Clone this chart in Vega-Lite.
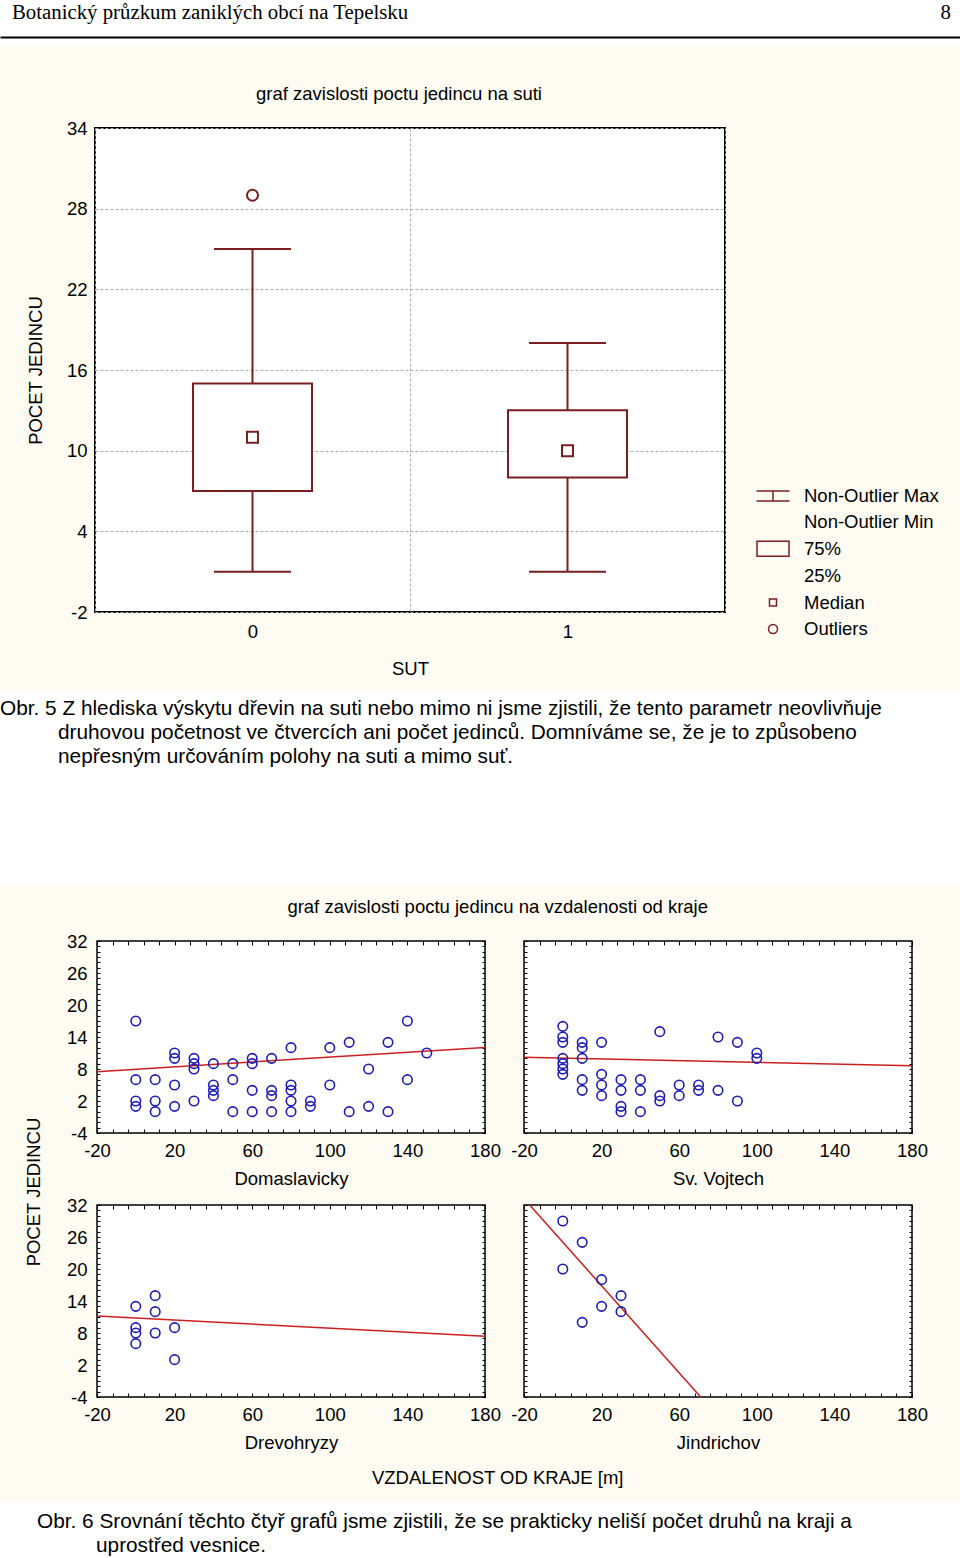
{
  "$schema": "https://vega.github.io/schema/vega-lite/v6.json",
  "background": "#FEFCF2",
  "padding": 0,
  "spacing": 13,
  "columns": 1,
  "align": "none",
  "config": {
    "font": "Liberation Sans",
    "view": {"stroke": "black", "strokeWidth": 1.5, "fill": "white"},
    "axis": {"domain": false, "labelFontSize": 18.5, "titleFontSize": 18.5, "labelColor": "black", "titleColor": "black", "titleFontWeight": "normal", "labelFont": "Liberation Sans", "titleFont": "Liberation Sans", "gridColor": "#ababab", "gridDash": [3, 2], "gridWidth": 1, "tickColor": "black", "labelFlush": false, "labelOverlap": false},
    "title": {"fontSize": 18.5, "fontWeight": "normal", "color": "black", "font": "Liberation Sans"},
    "legend": {"labelFontSize": 18.5, "labelColor": "black", "labelFont": "Liberation Sans"}
  },
  "datasets": {
    "header": [
      {"side": "left", "label": "Botanický průzkum zaniklých obcí na Tepelsku"},
      {"side": "right", "label": "8"}
    ],
    "caption1": [
      {"line": 1, "text": "Obr. 5 Z hlediska výskytu dřevin na suti nebo mimo ni jsme zjistili, že tento parametr neovlivňuje"},
      {"line": 2, "text": "druhovou početnost ve čtvercích ani počet jedinců. Domníváme se, že je to způsobeno"},
      {"line": 3, "text": "nepřesným určováním polohy na suti a mimo suť."}
    ],
    "caption2": [
      {"line": 1, "text": "Obr. 6 Srovnání těchto čtyř grafů jsme zjistili, že se prakticky neliší počet druhů na kraji a"},
      {"line": 2, "text": "uprostřed vesnice."}
    ],
    "boxes": [
      {"sut": "0", "lo": 1, "q1": 7, "median": 11, "q3": 15, "hi": 25},
      {"sut": "1", "lo": 1, "q1": 8, "median": 10, "q3": 13, "hi": 18}
    ],
    "outliers": [
      {"sut": "0", "count": 29}
    ],
    "points": [
      {"site": "Domaslavicky", "dist": 0, "count": 17}, {"site": "Domaslavicky", "dist": 0, "count": 6}, {"site": "Domaslavicky", "dist": 0, "count": 2}, {"site": "Domaslavicky", "dist": 0, "count": 1},
      {"site": "Domaslavicky", "dist": 10, "count": 6}, {"site": "Domaslavicky", "dist": 10, "count": 2}, {"site": "Domaslavicky", "dist": 10, "count": 0},
      {"site": "Domaslavicky", "dist": 20, "count": 11}, {"site": "Domaslavicky", "dist": 20, "count": 10}, {"site": "Domaslavicky", "dist": 20, "count": 5}, {"site": "Domaslavicky", "dist": 20, "count": 1},
      {"site": "Domaslavicky", "dist": 30, "count": 10}, {"site": "Domaslavicky", "dist": 30, "count": 9}, {"site": "Domaslavicky", "dist": 30, "count": 8}, {"site": "Domaslavicky", "dist": 30, "count": 2},
      {"site": "Domaslavicky", "dist": 40, "count": 9}, {"site": "Domaslavicky", "dist": 40, "count": 5}, {"site": "Domaslavicky", "dist": 40, "count": 4}, {"site": "Domaslavicky", "dist": 40, "count": 3},
      {"site": "Domaslavicky", "dist": 50, "count": 9}, {"site": "Domaslavicky", "dist": 50, "count": 6}, {"site": "Domaslavicky", "dist": 50, "count": 0},
      {"site": "Domaslavicky", "dist": 60, "count": 10}, {"site": "Domaslavicky", "dist": 60, "count": 9}, {"site": "Domaslavicky", "dist": 60, "count": 4}, {"site": "Domaslavicky", "dist": 60, "count": 0},
      {"site": "Domaslavicky", "dist": 70, "count": 10}, {"site": "Domaslavicky", "dist": 70, "count": 4}, {"site": "Domaslavicky", "dist": 70, "count": 3}, {"site": "Domaslavicky", "dist": 70, "count": 0},
      {"site": "Domaslavicky", "dist": 80, "count": 12}, {"site": "Domaslavicky", "dist": 80, "count": 5}, {"site": "Domaslavicky", "dist": 80, "count": 4}, {"site": "Domaslavicky", "dist": 80, "count": 2}, {"site": "Domaslavicky", "dist": 80, "count": 0},
      {"site": "Domaslavicky", "dist": 90, "count": 2}, {"site": "Domaslavicky", "dist": 90, "count": 1},
      {"site": "Domaslavicky", "dist": 100, "count": 12}, {"site": "Domaslavicky", "dist": 100, "count": 5},
      {"site": "Domaslavicky", "dist": 110, "count": 13}, {"site": "Domaslavicky", "dist": 110, "count": 0},
      {"site": "Domaslavicky", "dist": 120, "count": 8}, {"site": "Domaslavicky", "dist": 120, "count": 1},
      {"site": "Domaslavicky", "dist": 130, "count": 13}, {"site": "Domaslavicky", "dist": 130, "count": 0},
      {"site": "Domaslavicky", "dist": 140, "count": 17}, {"site": "Domaslavicky", "dist": 140, "count": 6},
      {"site": "Domaslavicky", "dist": 150, "count": 11},
      {"site": "Sv. Vojtech", "dist": 0, "count": 16}, {"site": "Sv. Vojtech", "dist": 0, "count": 14}, {"site": "Sv. Vojtech", "dist": 0, "count": 13}, {"site": "Sv. Vojtech", "dist": 0, "count": 10}, {"site": "Sv. Vojtech", "dist": 0, "count": 9}, {"site": "Sv. Vojtech", "dist": 0, "count": 8}, {"site": "Sv. Vojtech", "dist": 0, "count": 7},
      {"site": "Sv. Vojtech", "dist": 10, "count": 13}, {"site": "Sv. Vojtech", "dist": 10, "count": 12}, {"site": "Sv. Vojtech", "dist": 10, "count": 10}, {"site": "Sv. Vojtech", "dist": 10, "count": 6}, {"site": "Sv. Vojtech", "dist": 10, "count": 4},
      {"site": "Sv. Vojtech", "dist": 20, "count": 13}, {"site": "Sv. Vojtech", "dist": 20, "count": 7}, {"site": "Sv. Vojtech", "dist": 20, "count": 5}, {"site": "Sv. Vojtech", "dist": 20, "count": 3},
      {"site": "Sv. Vojtech", "dist": 30, "count": 6}, {"site": "Sv. Vojtech", "dist": 30, "count": 4}, {"site": "Sv. Vojtech", "dist": 30, "count": 1}, {"site": "Sv. Vojtech", "dist": 30, "count": 0},
      {"site": "Sv. Vojtech", "dist": 40, "count": 6}, {"site": "Sv. Vojtech", "dist": 40, "count": 4}, {"site": "Sv. Vojtech", "dist": 40, "count": 0},
      {"site": "Sv. Vojtech", "dist": 50, "count": 15}, {"site": "Sv. Vojtech", "dist": 50, "count": 3}, {"site": "Sv. Vojtech", "dist": 50, "count": 2},
      {"site": "Sv. Vojtech", "dist": 60, "count": 5}, {"site": "Sv. Vojtech", "dist": 60, "count": 3},
      {"site": "Sv. Vojtech", "dist": 70, "count": 5}, {"site": "Sv. Vojtech", "dist": 70, "count": 4},
      {"site": "Sv. Vojtech", "dist": 80, "count": 14}, {"site": "Sv. Vojtech", "dist": 80, "count": 4},
      {"site": "Sv. Vojtech", "dist": 90, "count": 13}, {"site": "Sv. Vojtech", "dist": 90, "count": 2},
      {"site": "Sv. Vojtech", "dist": 100, "count": 11}, {"site": "Sv. Vojtech", "dist": 100, "count": 10},
      {"site": "Drevohryzy", "dist": 0, "count": 13}, {"site": "Drevohryzy", "dist": 0, "count": 9}, {"site": "Drevohryzy", "dist": 0, "count": 8}, {"site": "Drevohryzy", "dist": 0, "count": 6},
      {"site": "Drevohryzy", "dist": 10, "count": 15}, {"site": "Drevohryzy", "dist": 10, "count": 12}, {"site": "Drevohryzy", "dist": 10, "count": 8},
      {"site": "Drevohryzy", "dist": 20, "count": 9}, {"site": "Drevohryzy", "dist": 20, "count": 3},
      {"site": "Jindrichov", "dist": 0, "count": 29}, {"site": "Jindrichov", "dist": 0, "count": 20},
      {"site": "Jindrichov", "dist": 10, "count": 25}, {"site": "Jindrichov", "dist": 10, "count": 10},
      {"site": "Jindrichov", "dist": 20, "count": 18}, {"site": "Jindrichov", "dist": 20, "count": 13},
      {"site": "Jindrichov", "dist": 30, "count": 15}, {"site": "Jindrichov", "dist": 30, "count": 12}
    ],
    "fits": [
      {"site": "Domaslavicky", "dist": -20, "fit": 7.5}, {"site": "Domaslavicky", "dist": 180, "fit": 12.05},
      {"site": "Sv. Vojtech", "dist": -20, "fit": 10.2}, {"site": "Sv. Vojtech", "dist": 180, "fit": 8.6},
      {"site": "Drevohryzy", "dist": -20, "fit": 11.2}, {"site": "Drevohryzy", "dist": 180, "fit": 7.4},
      {"site": "Jindrichov", "dist": -20, "fit": 33.2}, {"site": "Jindrichov", "dist": 180, "fit": -48.5}
    ]
  },
  "concat": [
    {
      "width": 960, "height": 45,
      "view": {"stroke": null},
      "data": {"name": "header"},
      "encoding": {
        "x": {"field": "side", "type": "nominal", "scale": {"type": "point", "domain": ["left", "right"], "padding": 0}, "axis": {"orient": "bottom", "offset": -8, "domain": true, "domainColor": "black", "domainWidth": 2, "labels": false, "ticks": false, "grid": false, "title": null}},
        "text": {"field": "label"}
      },
      "layer": [
        {"transform": [{"filter": "datum.side === 'left'"}], "mark": {"type": "text", "align": "left", "baseline": "alphabetic", "font": "Liberation Serif", "fontSize": 20.8, "dx": 12, "dy": -3.5}},
        {"transform": [{"filter": "datum.side === 'right'"}], "mark": {"type": "text", "align": "right", "baseline": "alphabetic", "font": "Liberation Serif", "fontSize": 20.8, "dx": -9, "dy": -3.5}}
      ]
    },
    {
      "spacing": 24,
      "hconcat": [
        {"width": 1, "height": 1, "view": {"stroke": null, "fill": null}, "data": {"values": []}, "mark": "point"},
        {
          "width": 630, "height": 484,
          "view": {"strokeWidth": 2},
          "title": {"text": ["\u00a0", "graf zavislosti poctu jedincu na suti"], "lineHeight": 25, "offset": 16, "dx": -11},
          "encoding": {
            "x": {"field": "sut", "type": "nominal", "scale": {"domain": ["0", "1"], "paddingInner": 0, "paddingOuter": 0}, "axis": {"title": "SUT", "labelAngle": 0, "tickBand": "extent", "ticks": false, "grid": true, "labelPadding": 10, "titlePadding": 19}}
          },
          "layer": [
            {"data": {"name": "boxes"}, "mark": {"type": "rule", "color": "#7A1F1F", "strokeWidth": 2},
             "encoding": {"y": {"field": "lo", "type": "quantitative", "scale": {"domain": [-2, 34], "nice": false, "zero": false}, "axis": {"values": [-2, 4, 10, 16, 22, 28, 34], "labelExpr": "toString(datum.value)", "title": "POCET JEDINCU", "ticks": false, "labelPadding": 8, "titlePadding": 21}}, "y2": {"field": "hi"}}},
            {"data": {"name": "boxes"}, "mark": {"type": "tick", "color": "#7A1F1F", "thickness": 2, "size": 77, "opacity": 1},
             "encoding": {"y": {"field": "hi", "type": "quantitative"}}},
            {"data": {"name": "boxes"}, "mark": {"type": "tick", "color": "#7A1F1F", "thickness": 2, "size": 77, "opacity": 1},
             "encoding": {"y": {"field": "lo", "type": "quantitative"}}},
            {"data": {"name": "boxes"}, "mark": {"type": "bar", "fill": "white", "stroke": "#7A1F1F", "strokeWidth": 2, "size": 119},
             "encoding": {"y": {"field": "q1", "type": "quantitative"}, "y2": {"field": "q3"}}},
            {"data": {"name": "boxes"}, "mark": {"type": "point", "filled": false, "color": "#7A1F1F", "strokeWidth": 2, "size": 1543, "opacity": 1},
             "encoding": {
               "y": {"field": "median", "type": "quantitative"},
               "shape": {"datum": "Median", "type": "nominal",
                 "scale": {"domain": ["Non-Outlier Max", "Non-Outlier Min", "75%", "25%", "Median", "Outliers"], "range": ["M-1.32,-0.4H1.32M0,-0.4V0.4M-1.32,0.4H1.32", "M0,0", "M-1.28,-0.6H1.28V0.6H-1.28Z", "M0,0", "M-0.28,-0.28H0.28V0.28H-0.28Z", "M0.36,0A0.36,0.36,0,1,1,-0.36,0A0.36,0.36,0,1,1,0.36,0Z"]},
                 "legend": {"title": null, "orient": "none", "legendX": 759.5, "legendY": 482.5, "symbolSize": 625, "symbolStrokeWidth": 1.5, "symbolStrokeColor": "#7A1F1F", "symbolFillColor": "transparent", "labelFontSize": 18.5, "labelOffset": 17.5, "rowPadding": 3.4, "labelLimit": 400, "padding": 0}}
             }},
            {"data": {"name": "outliers"}, "mark": {"type": "point", "filled": false, "color": "#7A1F1F", "strokeWidth": 2, "size": 934, "opacity": 1},
             "encoding": {
               "y": {"field": "count", "type": "quantitative"},
               "shape": {"datum": "Outliers", "type": "nominal",
                 "scale": {"domain": ["Non-Outlier Max", "Non-Outlier Min", "75%", "25%", "Median", "Outliers"], "range": ["M-1.32,-0.4H1.32M0,-0.4V0.4M-1.32,0.4H1.32", "M0,0", "M-1.28,-0.6H1.28V0.6H-1.28Z", "M0,0", "M-0.28,-0.28H0.28V0.28H-0.28Z", "M0.36,0A0.36,0.36,0,1,1,-0.36,0A0.36,0.36,0,1,1,0.36,0Z"]},
                 "legend": {"title": null, "orient": "none", "legendX": 759.5, "legendY": 482.5, "symbolSize": 625, "symbolStrokeWidth": 1.5, "symbolStrokeColor": "#7A1F1F", "symbolFillColor": "transparent", "labelFontSize": 18.5, "labelOffset": 17.5, "rowPadding": 3.4, "labelLimit": 400, "padding": 0}}
             }}
          ]
        }
      ]
    },
    {
      "width": 960, "height": 192,
      "view": {"stroke": null},
      "data": {"name": "caption1"},
      "encoding": {
        "x": {"datum": 0, "type": "quantitative", "scale": {"domain": [0, 1]}, "axis": null},
        "y": {"field": "line", "type": "quantitative", "scale": {"domain": [0.29, 8.29], "reverse": true, "nice": false, "zero": false}, "axis": null},
        "text": {"field": "text"}
      },
      "layer": [
        {"transform": [{"filter": "datum.line === 1"}], "mark": {"type": "text", "align": "left", "baseline": "middle", "fontSize": 20.8}},
        {"transform": [{"filter": "datum.line > 1"}], "mark": {"type": "text", "align": "left", "baseline": "middle", "fontSize": 20.8, "dx": 58}}
      ]
    },
    {
      "spacing": 24,
      "hconcat": [
        {"width": 1, "height": 1, "view": {"stroke": null, "fill": null}, "data": {"values": []}, "mark": "point"},
        {
          "title": {"text": "graf zavislosti poctu jedincu na vzdalenosti od kraje", "offset": 15, "anchor": "middle", "dx": 21},
          "vconcat": [
            {
              "title": {"text": "VZDALENOST OD KRAJE [m]", "orient": "bottom", "offset": 16, "anchor": "middle", "dx": 21},
              "vconcat": [
                {
                  "title": {"text": "POCET JEDINCU", "orient": "left", "offset": 22, "anchor": "middle"},
                  "spacing": 6,
                  "vconcat": [
                    {
                      "spacing": 7,
                      "hconcat": [
                        {
                          "width": 388, "height": 192,
                          "layer": [
                            {"data": {"name": "fits"}, "transform": [{"filter": {"field": "site", "equal": "Domaslavicky"}}],
                             "mark": {"type": "line", "color": "#cc1f1f", "strokeWidth": 1.5, "clip": true},
                             "encoding": {
                               "x": {"field": "dist", "type": "quantitative", "scale": {"domain": [-20, 180], "nice": false, "zero": false}, "axis": {"orient": "top", "values": [-20, -12, -4, 4, 12, 20, 28, 36, 44, 52, 60, 68, 76, 84, 92, 100, 108, 116, 124, 132, 140, 148, 156, 164, 172, 180], "labels": false, "grid": false, "tickSize": -4, "title": null}},
                               "y": {"field": "fit", "type": "quantitative", "scale": {"domain": [-4, 32], "nice": false, "zero": false}, "axis": {"orient": "right", "values": [-4, -3, -2, -1, 0, 1, 2, 3, 4, 5, 6, 7, 8, 9, 10, 11, 12, 13, 14, 15, 16, 17, 18, 19, 20, 21, 22, 23, 24, 25, 26, 27, 28, 29, 30, 31, 32], "labels": false, "grid": false, "tickSize": -3, "title": null}}
                             }},
                            {"data": {"name": "points"}, "transform": [{"filter": {"field": "site", "equal": "Domaslavicky"}}],
                             "mark": {"type": "point", "shape": "circle", "filled": false, "color": "#1c1cb4", "strokeWidth": 1.6, "size": 90, "opacity": 1},
                             "encoding": {
                               "x": {"field": "dist", "type": "quantitative", "scale": {"domain": [-20, 180], "nice": false, "zero": false}, "axis": {"orient": "bottom", "values": [-20, -12, -4, 4, 12, 20, 28, 36, 44, 52, 60, 68, 76, 84, 92, 100, 108, 116, 124, 132, 140, 148, 156, 164, 172, 180], "labelExpr": "(datum.value + 20) % 40 === 0 ? toString(datum.value) : ''", "gridOpacity": {"condition": {"test": "(datum.value + 20) % 40 === 0", "value": 1}, "value": 0}, "tickSize": -4, "labelPadding": 12, "title": "Domaslavicky", "titlePadding": 10}},
                               "y": {"field": "count", "type": "quantitative", "scale": {"domain": [-4, 32], "nice": false, "zero": false}, "axis": {"orient": "left", "values": [-4, -3, -2, -1, 0, 1, 2, 3, 4, 5, 6, 7, 8, 9, 10, 11, 12, 13, 14, 15, 16, 17, 18, 19, 20, 21, 22, 23, 24, 25, 26, 27, 28, 29, 30, 31, 32], "labelExpr": "(datum.value + 4) % 6 === 0 ? toString(datum.value) : ''", "gridOpacity": {"condition": {"test": "(datum.value + 4) % 6 === 0", "value": 1}, "value": 0}, "tickSize": -3, "labelPadding": 13, "title": null}}
                             }}
                          ],
                          "resolve": {"axis": {"x": "independent", "y": "independent"}}
                        },
                        {
                          "width": 388, "height": 192,
                          "layer": [
                            {"data": {"name": "fits"}, "transform": [{"filter": {"field": "site", "equal": "Sv. Vojtech"}}],
                             "mark": {"type": "line", "color": "#cc1f1f", "strokeWidth": 1.5, "clip": true},
                             "encoding": {
                               "x": {"field": "dist", "type": "quantitative", "scale": {"domain": [-20, 180], "nice": false, "zero": false}, "axis": {"orient": "top", "values": [-20, -12, -4, 4, 12, 20, 28, 36, 44, 52, 60, 68, 76, 84, 92, 100, 108, 116, 124, 132, 140, 148, 156, 164, 172, 180], "labels": false, "grid": false, "tickSize": -4, "title": null}},
                               "y": {"field": "fit", "type": "quantitative", "scale": {"domain": [-4, 32], "nice": false, "zero": false}, "axis": {"orient": "right", "values": [-4, -3, -2, -1, 0, 1, 2, 3, 4, 5, 6, 7, 8, 9, 10, 11, 12, 13, 14, 15, 16, 17, 18, 19, 20, 21, 22, 23, 24, 25, 26, 27, 28, 29, 30, 31, 32], "labels": false, "grid": false, "tickSize": -3, "title": null}}
                             }},
                            {"data": {"name": "points"}, "transform": [{"filter": {"field": "site", "equal": "Sv. Vojtech"}}],
                             "mark": {"type": "point", "shape": "circle", "filled": false, "color": "#1c1cb4", "strokeWidth": 1.6, "size": 90, "opacity": 1},
                             "encoding": {
                               "x": {"field": "dist", "type": "quantitative", "scale": {"domain": [-20, 180], "nice": false, "zero": false}, "axis": {"orient": "bottom", "values": [-20, -12, -4, 4, 12, 20, 28, 36, 44, 52, 60, 68, 76, 84, 92, 100, 108, 116, 124, 132, 140, 148, 156, 164, 172, 180], "labelExpr": "(datum.value + 20) % 40 === 0 ? toString(datum.value) : ''", "gridOpacity": {"condition": {"test": "(datum.value + 20) % 40 === 0", "value": 1}, "value": 0}, "tickSize": -4, "labelPadding": 12, "title": "Sv. Vojtech", "titlePadding": 10}},
                               "y": {"field": "count", "type": "quantitative", "scale": {"domain": [-4, 32], "nice": false, "zero": false}, "axis": {"orient": "left", "values": [-4, -3, -2, -1, 0, 1, 2, 3, 4, 5, 6, 7, 8, 9, 10, 11, 12, 13, 14, 15, 16, 17, 18, 19, 20, 21, 22, 23, 24, 25, 26, 27, 28, 29, 30, 31, 32], "labels": false, "gridOpacity": {"condition": {"test": "(datum.value + 4) % 6 === 0", "value": 1}, "value": 0}, "tickSize": -3, "title": null}}
                             }}
                          ],
                          "resolve": {"axis": {"x": "independent", "y": "independent"}}
                        }
                      ]
                    },
                    {
                      "spacing": 7,
                      "hconcat": [
                        {
                          "width": 388, "height": 192,
                          "layer": [
                            {"data": {"name": "fits"}, "transform": [{"filter": {"field": "site", "equal": "Drevohryzy"}}],
                             "mark": {"type": "line", "color": "#cc1f1f", "strokeWidth": 1.5, "clip": true},
                             "encoding": {
                               "x": {"field": "dist", "type": "quantitative", "scale": {"domain": [-20, 180], "nice": false, "zero": false}, "axis": {"orient": "top", "values": [-20, -12, -4, 4, 12, 20, 28, 36, 44, 52, 60, 68, 76, 84, 92, 100, 108, 116, 124, 132, 140, 148, 156, 164, 172, 180], "labels": false, "grid": false, "tickSize": -4, "title": null}},
                               "y": {"field": "fit", "type": "quantitative", "scale": {"domain": [-4, 32], "nice": false, "zero": false}, "axis": {"orient": "right", "values": [-4, -3, -2, -1, 0, 1, 2, 3, 4, 5, 6, 7, 8, 9, 10, 11, 12, 13, 14, 15, 16, 17, 18, 19, 20, 21, 22, 23, 24, 25, 26, 27, 28, 29, 30, 31, 32], "labels": false, "grid": false, "tickSize": -3, "title": null}}
                             }},
                            {"data": {"name": "points"}, "transform": [{"filter": {"field": "site", "equal": "Drevohryzy"}}],
                             "mark": {"type": "point", "shape": "circle", "filled": false, "color": "#1c1cb4", "strokeWidth": 1.6, "size": 90, "opacity": 1},
                             "encoding": {
                               "x": {"field": "dist", "type": "quantitative", "scale": {"domain": [-20, 180], "nice": false, "zero": false}, "axis": {"orient": "bottom", "values": [-20, -12, -4, 4, 12, 20, 28, 36, 44, 52, 60, 68, 76, 84, 92, 100, 108, 116, 124, 132, 140, 148, 156, 164, 172, 180], "labelExpr": "(datum.value + 20) % 40 === 0 ? toString(datum.value) : ''", "gridOpacity": {"condition": {"test": "(datum.value + 20) % 40 === 0", "value": 1}, "value": 0}, "tickSize": -4, "labelPadding": 12, "title": "Drevohryzy", "titlePadding": 10}},
                               "y": {"field": "count", "type": "quantitative", "scale": {"domain": [-4, 32], "nice": false, "zero": false}, "axis": {"orient": "left", "values": [-4, -3, -2, -1, 0, 1, 2, 3, 4, 5, 6, 7, 8, 9, 10, 11, 12, 13, 14, 15, 16, 17, 18, 19, 20, 21, 22, 23, 24, 25, 26, 27, 28, 29, 30, 31, 32], "labelExpr": "(datum.value + 4) % 6 === 0 ? toString(datum.value) : ''", "gridOpacity": {"condition": {"test": "(datum.value + 4) % 6 === 0", "value": 1}, "value": 0}, "tickSize": -3, "labelPadding": 13, "title": null}}
                             }}
                          ],
                          "resolve": {"axis": {"x": "independent", "y": "independent"}}
                        },
                        {
                          "width": 388, "height": 192,
                          "layer": [
                            {"data": {"name": "fits"}, "transform": [{"filter": {"field": "site", "equal": "Jindrichov"}}],
                             "mark": {"type": "line", "color": "#cc1f1f", "strokeWidth": 1.5, "clip": true},
                             "encoding": {
                               "x": {"field": "dist", "type": "quantitative", "scale": {"domain": [-20, 180], "nice": false, "zero": false}, "axis": {"orient": "top", "values": [-20, -12, -4, 4, 12, 20, 28, 36, 44, 52, 60, 68, 76, 84, 92, 100, 108, 116, 124, 132, 140, 148, 156, 164, 172, 180], "labels": false, "grid": false, "tickSize": -4, "title": null}},
                               "y": {"field": "fit", "type": "quantitative", "scale": {"domain": [-4, 32], "nice": false, "zero": false}, "axis": {"orient": "right", "values": [-4, -3, -2, -1, 0, 1, 2, 3, 4, 5, 6, 7, 8, 9, 10, 11, 12, 13, 14, 15, 16, 17, 18, 19, 20, 21, 22, 23, 24, 25, 26, 27, 28, 29, 30, 31, 32], "labels": false, "grid": false, "tickSize": -3, "title": null}}
                             }},
                            {"data": {"name": "points"}, "transform": [{"filter": {"field": "site", "equal": "Jindrichov"}}],
                             "mark": {"type": "point", "shape": "circle", "filled": false, "color": "#1c1cb4", "strokeWidth": 1.6, "size": 90, "opacity": 1},
                             "encoding": {
                               "x": {"field": "dist", "type": "quantitative", "scale": {"domain": [-20, 180], "nice": false, "zero": false}, "axis": {"orient": "bottom", "values": [-20, -12, -4, 4, 12, 20, 28, 36, 44, 52, 60, 68, 76, 84, 92, 100, 108, 116, 124, 132, 140, 148, 156, 164, 172, 180], "labelExpr": "(datum.value + 20) % 40 === 0 ? toString(datum.value) : ''", "gridOpacity": {"condition": {"test": "(datum.value + 20) % 40 === 0", "value": 1}, "value": 0}, "tickSize": -4, "labelPadding": 12, "title": "Jindrichov", "titlePadding": 10}},
                               "y": {"field": "count", "type": "quantitative", "scale": {"domain": [-4, 32], "nice": false, "zero": false}, "axis": {"orient": "left", "values": [-4, -3, -2, -1, 0, 1, 2, 3, 4, 5, 6, 7, 8, 9, 10, 11, 12, 13, 14, 15, 16, 17, 18, 19, 20, 21, 22, 23, 24, 25, 26, 27, 28, 29, 30, 31, 32], "labels": false, "gridOpacity": {"condition": {"test": "(datum.value + 4) % 6 === 0", "value": 1}, "value": 0}, "tickSize": -3, "title": null}}
                             }}
                          ],
                          "resolve": {"axis": {"x": "independent", "y": "independent"}}
                        }
                      ]
                    }
                  ]
                }
              ]
            }
          ]
        }
      ]
    },
    {
      "width": 960, "height": 58,
      "view": {"stroke": null},
      "data": {"name": "caption2"},
      "encoding": {
        "x": {"datum": 0, "type": "quantitative", "scale": {"domain": [0, 1]}, "axis": null},
        "y": {"field": "line", "type": "quantitative", "scale": {"domain": [0.125, 2.5417], "reverse": true, "nice": false, "zero": false}, "axis": null},
        "text": {"field": "text"}
      },
      "layer": [
        {"transform": [{"filter": "datum.line === 1"}], "mark": {"type": "text", "align": "left", "baseline": "middle", "fontSize": 20.8, "dx": 37}},
        {"transform": [{"filter": "datum.line > 1"}], "mark": {"type": "text", "align": "left", "baseline": "middle", "fontSize": 20.8, "dx": 96}}
      ]
    }
  ]
}
